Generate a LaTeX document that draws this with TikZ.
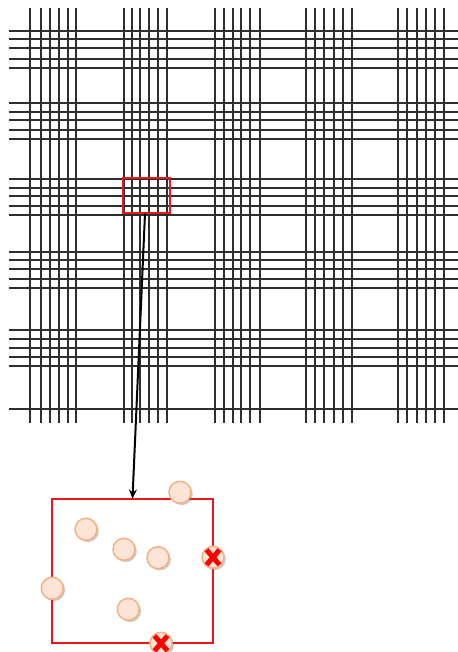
\documentclass[tikz,border=0pt]{standalone}
\usetikzlibrary{arrows.meta,shadows}
\definecolor{gridline}{HTML}{2E2E2E}
\definecolor{peach}{HTML}{FCE4D6}
\definecolor{peachline}{HTML}{F4B183}
\definecolor{boxred}{HTML}{E8171B}
\tikzset{
  gridv/.style={draw=gridline, line width=2bp},
  gridh/.style={draw=gridline, line width=2bp},
  zoombox/.style={draw=boxred, line width=2bp, inner sep=0pt},
  pt/.style={circle, fill=peach, draw=peachline, line width=1.5bp, minimum size=22bp, inner sep=0pt,
    drop shadow={shadow xshift=1.8bp, shadow yshift=-1.8bp, opacity=0.35, fill=black!60}},
  redx/.style={draw=red, line width=5bp},
  zoomarrow/.style={draw=black, line width=2bp, -{Stealth[length=9bp,width=8bp]}}
}
\begin{document}
\begin{tikzpicture}[x=1bp,y=-1bp]
\useasboundingbox (0,0) rectangle (458,652);
% vertical grid lines
\foreach \x in {30,41,50,59,68,76,
                124,132,140,149,158,167,
                215,224,233,241,250,260,
                306,315,324,334,343,352,
                398,407,417,426,435,444}
  \draw[gridv] (\x,8) -- (\x,423);
% horizontal grid lines
\foreach \y in {31,39,48,59,68,
                103,112,120,130,139,
                179,188,196,206,215,
                252,260,269,279,288,
                330,339,348,357,366,
                409}
  \draw[gridh] (9,\y) -- (458,\y);
% small zoom box
\node[zoombox, minimum width=47bp, minimum height=35bp] (zoom) at (146.5,195.5) {};
% detail box
\node[zoombox, minimum width=160.5bp, minimum height=144bp] (detail) at (132.5,571.25) {};
% arrow
\coordinate (a) at (145,213.5);
\coordinate (b) at (132.5,498.5);
\draw[zoomarrow] (a) -- (b);
% points
\node[pt] (p1) at (180,492.3) {};
\node[pt] (p2) at (86,529.3) {};
\node[pt] (p3) at (124,549.3) {};
\node[pt] (p4) at (158,557.7) {};
\node[pt] (p5) at (213,557.3) {};
\node[pt] (p6) at (52.3,588.3) {};
\node[pt] (p7) at (128.3,609.3) {};
\node[pt] (p8) at (161,643.3) {};
% red crosses
\foreach \n in {p5,p8}{
  \draw[redx] ([shift={(-6.5bp,-7.5bp)}]\n.center) -- ([shift={(6.5bp,7.5bp)}]\n.center);
  \draw[redx] ([shift={(-6.5bp,7.5bp)}]\n.center) -- ([shift={(6.5bp,-7.5bp)}]\n.center);
}
\end{tikzpicture}
\end{document}
